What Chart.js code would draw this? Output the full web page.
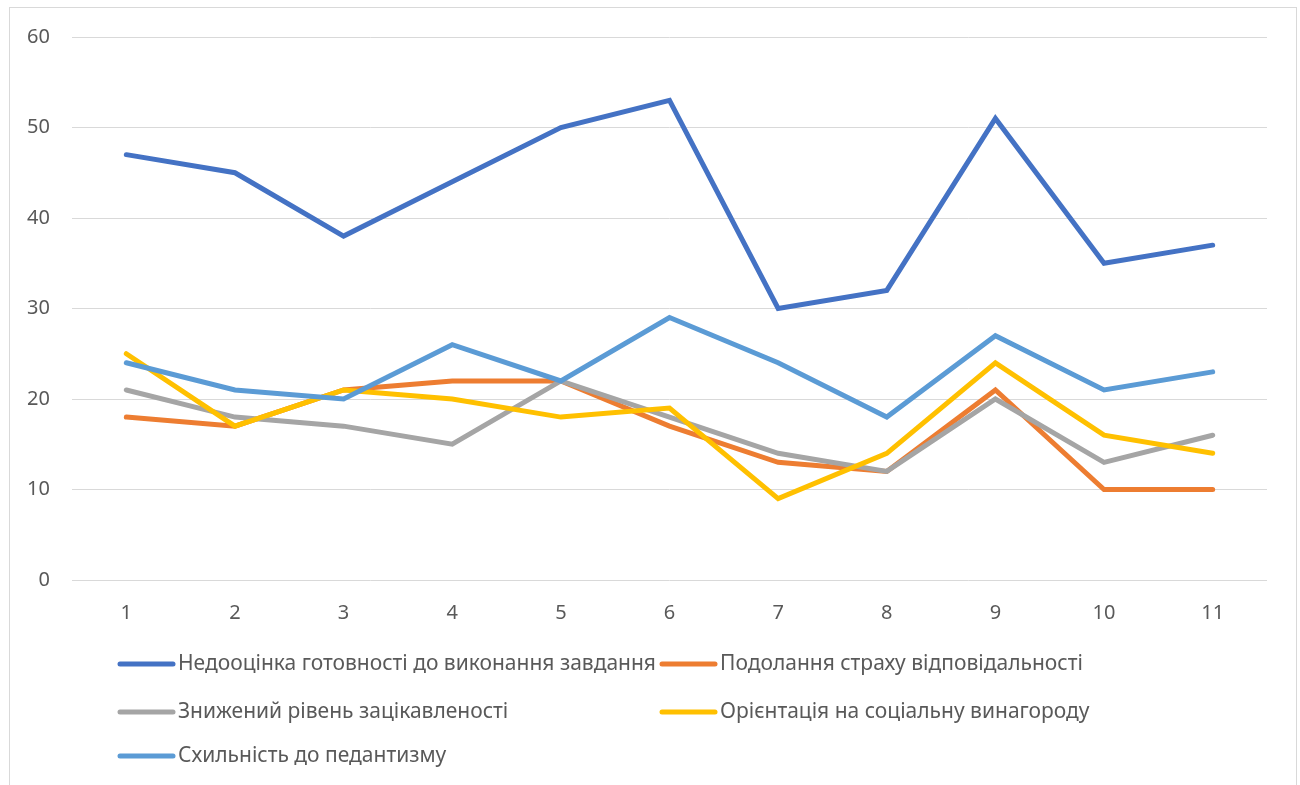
<!DOCTYPE html>
<html>
<head>
<meta charset="utf-8">
<script src="https://cdn.jsdelivr.net/npm/chart.js@4"></script>
<style>
  body { margin: 0; background: #fff; }
  #wrap { position: relative; width: 1300px; height: 785px; }
  #frame { position: absolute; left: 9px; top: 7px; width: 1286px; height: 800px; border: 1px solid #d9d9d9; }
  canvas { position: absolute; left: 0; top: 0; }
</style>
</head>
<body>
<div id="wrap">
  <div id="frame"></div>
  <canvas id="ctx" width="1300" height="785"></canvas>
</div>
<script>
const categories = ["1", "2", "3", "4", "5", "6", "7", "8", "9", "10", "11"];

const nedootsinka = [47, 45, 38, 44, 50, 53, 30, 32, 51, 35, 37];
const podolannia = [18, 17, 21, 22, 22, 17, 13, 12, 21, 10, 10];
const znyzhenyi = [21, 18, 17, 15, 22, 18, 14, 12, 20, 13, 16];
const oriientatsiia = [25, 17, 21, 20, 18, 19, 9, 14, 24, 16, 14];
const skhylnist = [24, 21, 20, 26, 22, 29, 24, 18, 27, 21, 23];

const seriesNames = [
  "Недооцінка готовності до виконання завдання",
  "Подолання страху відповідальності",
  "Знижений рівень зацікавленості",
  "Орієнтація на соціальну винагороду",
  "Схильність до педантизму"
];
const colors = ["#4472C4", "#ED7D31", "#A5A5A5", "#FFC000", "#5B9BD5"];

const FONT = "'Noto Sans', 'DejaVu Sans', sans-serif";
const TXT = "#595959";

// legend drawn by hand: two columns like the Excel original
const legendPlugin = {
  id: "excelLegend",
  afterDraw(chart) {
    const c = chart.ctx;
    const slots = [[118, 664], [660, 664], [118, 712], [660, 712], [118, 756]];
    c.save();
    c.font = "21px " + FONT;
    c.fillStyle = TXT;
    c.textBaseline = "middle";
    chart.data.datasets.forEach((ds, i) => {
      const [x, y] = slots[i];
      c.strokeStyle = ds.borderColor;
      c.lineWidth = 5;
      c.lineCap = "round";
      c.beginPath();
      c.moveTo(x + 2, y);
      c.lineTo(x + 55, y);
      c.stroke();
      c.fillText(ds.label, x + 60, y);
    });
    c.restore();
  }
};

const pintarGrafica = () => {
  const datos = [nedootsinka, podolannia, znyzhenyi, oriientatsiia, skhylnist];
  new Chart(document.getElementById("ctx"), {
    type: "line",
    data: {
      labels: categories,
      datasets: datos.map((d, i) => ({
        label: seriesNames[i],
        data: d,
        borderColor: colors[i],
        backgroundColor: colors[i],
        borderWidth: 5,
        pointRadius: 0,
        tension: 0,
        borderCapStyle: "round",
        borderJoinStyle: "miter",
        order: datos.length - i
      }))
    },
    options: {
      responsive: false,
      animation: false,
      layout: { padding: { left: 10, top: 37, right: 33, bottom: 0 } },
      plugins: { legend: { display: false }, tooltip: { enabled: false } },
      scales: {
        x: {
          offset: true,
          grid: { display: false, drawTicks: false },
          border: { display: false },
          ticks: { color: TXT, font: { family: FONT, size: 20 }, padding: 21 },
          afterFit(s) { s.height = 205; }
        },
        y: {
          min: 0,
          max: 60,
          ticks: { stepSize: 10, color: TXT, font: { family: FONT, size: 20 }, padding: 22 },
          grid: { color: "#d9d9d9", lineWidth: 1, drawTicks: false },
          border: { display: false },
          afterFit(s) { s.width = 62; }
        }
      }
    },
    plugins: [legendPlugin]
  });
};

window.addEventListener("load", pintarGrafica);
</script>
</body>
</html>
